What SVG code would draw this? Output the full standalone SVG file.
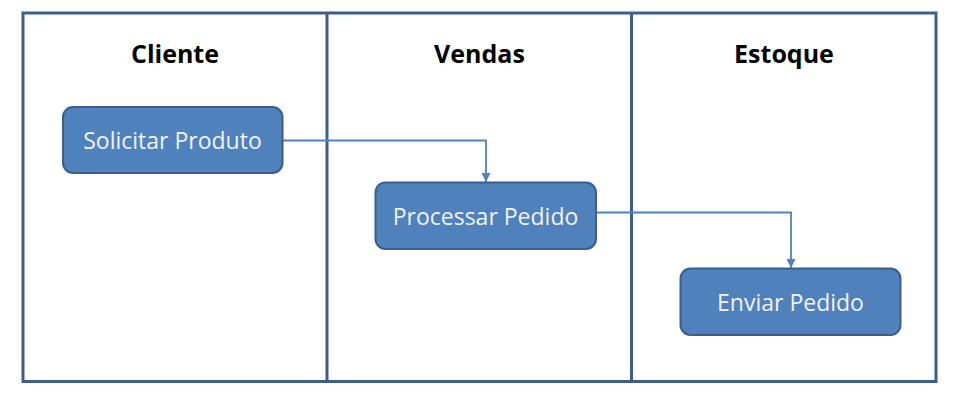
<svg xmlns="http://www.w3.org/2000/svg" width="964" height="411" viewBox="0 0 964 411">
<style>
.lane{fill:none;stroke:#3c5e88;stroke-width:3}
.title{font-family:"Open Sans","Liberation Sans",sans-serif;font-weight:bold;font-size:25px;fill:#000;text-anchor:middle}
.box{fill:#4f81bd;stroke:#3a5f8b;stroke-width:2}
.lbl{font-family:"Open Sans","Liberation Sans",sans-serif;font-size:23px;fill:#f2f2f2;text-anchor:middle}
.conn{fill:none;stroke:#4f81bd;stroke-width:1.8}
</style>
<defs>
<marker id="arr" viewBox="0 0 10 10" refX="10" refY="5" markerWidth="9" markerHeight="9" markerUnits="userSpaceOnUse" orient="auto">
<path d="M0,0 L10,5 L0,10 Z" fill="#4f81bd"/>
</marker>
</defs>
<rect width="964" height="411" fill="#fff"/>
<g id="lanes">
<rect class="lane" x="23" y="13" width="913" height="368.5"/>
<line class="lane" x1="327" y1="13" x2="327" y2="381.5"/>
<line class="lane" x1="631.5" y1="13" x2="631.5" y2="381.5"/>
<text class="title" x="175" y="63">Cliente</text>
<text class="title" x="479.5" y="63">Vendas</text>
<text class="title" x="784" y="63">Estoque</text>
</g>
<g id="connectors">
<path class="conn" d="M283,140.5 H486 V182" marker-end="url(#arr)"/>
<path class="conn" d="M596,212.5 H791 V268" marker-end="url(#arr)"/>
</g>
<g id="n1">
<rect class="box" x="63" y="107" width="219.5" height="66" rx="10"/>
<text class="lbl" x="172.5" y="149">Solicitar Produto</text>
</g>
<g id="n2">
<rect class="box" x="375.5" y="182.5" width="220.5" height="66.5" rx="10"/>
<text class="lbl" x="485.5" y="225">Processar Pedido</text>
</g>
<g id="n3">
<rect class="box" x="680.5" y="268.5" width="220" height="66.5" rx="10"/>
<text class="lbl" x="790.5" y="311">Enviar Pedido</text>
</g>
</svg>
